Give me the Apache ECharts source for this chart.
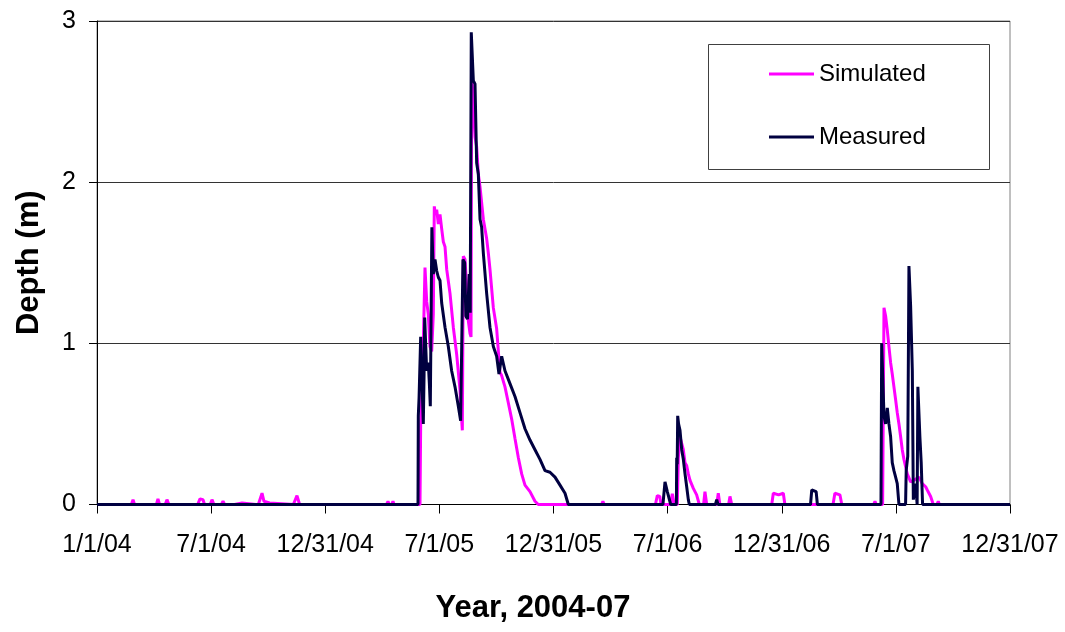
<!DOCTYPE html>
<html>
<head>
<meta charset="utf-8">
<script src="https://cdn.jsdelivr.net/npm/echarts@6/dist/echarts.min.js"></script>
<style>
html,body{margin:0;padding:0;background:#fff;}
#chart{width:1065px;height:632px;}
</style>
</head>
<body>
<div id="chart"></div>
<script>
// X tick labels (every half year, day 0 = 1/1/04)
var xTickLabels = ['1/1/04','7/1/04','12/31/04','7/1/05','12/31/05','7/1/06','12/31/06','7/1/07','12/31/07'];
var yTickLabels = ['0','1','2','3'];
var seriesNames = ['Simulated','Measured'];

// Simulated depth (m): days since 1/1/04
var simDays = [0,
 55,57.6,60, 95,97.5,100, 109,111.9,115, 142,143.9,146, 161,164.7,169.5,172, 181,183.9,187,
 199,201.5,204, 220,222,232,234, 254,255.9,258, 260,263.9,267,276,279, 314,319.8,324,
 439,441.4,443, 463,465.4,467, 471,473.3,475, 479,481.3,483,
 516.5,517.6,519,521.8,524.5,527.2,529.8,532.5,535.2,537.8,539.4,541,543.2,545.8,548.5,551.2,553.8,556.5,
 559.2,564.5,569.8,575.2,580.5,584.2,585.8,588.5,591.1,593.8,596.5,598.1,599.1,601.8,604.5,607.1,609.8,
 612.5,617.8,623.1,625.8,628.4,633.8,639.1,644.4,647.1,652.4,657.8,663.1,668.4,673.8,679.1,684.4,692.4,700.4,705.7,
 807,809,811, 893,896,900,902, 917,920,923,
 928,929.6,932.3,935,937.6,940.3,943,945.6,948.3,953.6,958.9,963.2,
 970,972.2,975, 991,993.5,996, 1010,1012.2,1015, 1026,1028.2,1030, 1079,1081.5,1090,1097.5,1100,
 1111,1113.5,1116, 1177,1180,1188,1191, 1242,1244.1,1246,
 1256.3,1258.5,1261.1,1263.8,1266.4,1269.1,1271.7,1274.4,1277.1,1279.7,1282.4,1285.1,1287.7,1290.4,
 1295.7,1301.1,1306.4,1314.4,1319.7,1325.1,1327.7,1333.1,1337.3,
 1343,1345.3,1347, 1460];
var simDepth = [0,
 0,0.03,0, 0,0.035,0, 0,0.03,0, 0,0.01,0, 0,0.035,0.03,0, 0,0.03,0,
 0,0.02,0, 0,0.01,0.01,0, 0,0.01,0, 0,0.07,0.02,0.01,0, 0,0.055,0,
 0,0.01,0, 0,0.02,0, 0,0.02,0, 0,0.01,0,
 0,0.5,0.62,1.0,1.47,1.26,1.18,0.98,0.95,1.18,1.85,1.8,1.83,1.74,1.80,1.71,1.63,1.6,
 1.46,1.31,1.1,0.93,0.71,0.46,1.54,1.52,1.35,1.14,1.06,1.04,2.70,2.47,2.28,2.22,2.05,
 1.97,1.77,1.65,1.56,1.46,1.22,1.09,0.82,0.80,0.73,0.63,0.53,0.41,0.29,0.19,0.12,0.08,0.02,0,
 0,0.02,0, 0,0.055,0.05,0, 0,0.066,0,
 0,0.29,0.42,0.38,0.34,0.26,0.24,0.19,0.15,0.10,0.06,0,
 0,0.08,0, 0,0.07,0, 0,0.05,0, 0,0.01,0, 0,0.07,0.06,0.07,0,
 0,0.01,0, 0,0.07,0.06,0, 0,0.02,0,
 0,1.22,1.17,1.08,0.98,0.88,0.81,0.73,0.65,0.57,0.50,0.42,0.34,0.28,
 0.19,0.14,0.15,0.17,0.13,0.11,0.09,0.05,0,
 0,0.02,0, 0];

// Measured depth (m): days since 1/1/04
var measDays = [0,
 513.3,513.8,515,517,517.6,519,521.8,523,524,526,527.2,529.8,531.5,533,535.5,537.8,540.5,543.2,545.8,548.5,
 551.2,556.5,561.8,567.1,572.5,577.8,581.5,583.5,585.2,588,589.8,592.5,595.2,596.8,598.5,601.8,604.5,607.1,
 609.8,612.5,615.1,617.8,623.1,628.4,633.8,639.1,642.8,647.1,652.4,660.4,668.4,676.4,684.4,692.4,700.4,
 708.4,716.4,724.4,732.4,740.4,748.4,753.7,
 775,777,779, 905,908.3,912,917.4,
 926.5,927,927.8,928.6,930,932.3,935,937.6,940.3,943,945.6,947.2,
 989,991,993, 1141,1143,1150,1152,
 1253.7,1254.8,1258.5,1261.1,1263.8,1266.4,1269.1,1271.7,1274.4,1277.1,1279.7,1282.4,
 1293,1294,1296.5,1298.4,1301.1,1303.8,1305.4,1309,1311.5,1312.7,1315.9,1318,1320.2, 1460];
var measDepth = [0,
 0,0.55,0.66,0.66,1.04,0.85,0.50,0.8,1.16,0.95,0.83,0.88,0.75,0.61,1.72,1.43,1.52,1.45,1.41,1.39,
 1.25,1.10,0.98,0.83,0.73,0.61,0.52,0.53,1.52,1.50,1.17,1.15,1.43,1.19,2.93,2.63,2.61,2.12,
 2.05,1.77,1.72,1.56,1.31,1.10,0.98,0.92,0.81,0.92,0.83,0.75,0.67,0.57,0.47,0.40,0.34,
 0.28,0.21,0.20,0.17,0.12,0.07,0,
 0,0.01,0, 0,0.14,0.08,0,
 0,0.29,0.25,0.55,0.50,0.46,0.34,0.28,0.19,0.11,0.03,0,
 0,0.03,0, 0,0.09,0.08,0,
 0,1.0,0.55,0.50,0.60,0.50,0.42,0.26,0.21,0.17,0.13,0,
 0,0.21,0.3,1.48,1.23,0.83,0.03,0.13,0,0.73,0.42,0.26,0, 0];

function zip(a, b){ return a.map(function(v,i){ return [v, b[i]]; }); }

var FONT = "'Liberation Sans', Arial, sans-serif";
var chart = echarts.init(document.getElementById('chart'), null, {renderer:'canvas'});
chart.setOption({
  animation: false,
  backgroundColor: '#ffffff',
  textStyle: {fontFamily: FONT},
  grid: {left: 97, right: 55, top: 21, bottom: 127.5, show: true, borderColor: '#808080', borderWidth: 1},
  legend: {
    orient: 'vertical', left: 769, top: 62, padding: 0, itemGap: 39,
    icon: 'rect', itemWidth: 45, itemHeight: 3,
    textStyle: {fontSize: 24, lineHeight: 24, color: '#000', fontFamily: FONT},
    data: [
      {name: seriesNames[0], itemStyle: {color: '#ff00ff'}},
      {name: seriesNames[1], itemStyle: {color: '#000040'}}
    ]
  },
  graphic: [{
    type: 'rect', left: 706, top: 42, z: 100, silent: true,
    shape: {width: 281, height: 125},
    style: {fill: 'none', stroke: '#404040', lineWidth: 1}
  }],
  xAxis: {
    type: 'value', min: 0, max: 1460, interval: 182.5,
    name: 'Year, 2004-07', nameLocation: 'middle', nameGap: 88,
    nameTextStyle: {fontSize: 31, fontWeight: 'bold', color: '#000', fontFamily: FONT, padding: [0, 41, 0, 0]},
    axisLine: {show: true, lineStyle: {color: '#000', width: 1}},
    axisTick: {show: true, inside: false, length: 9, lineStyle: {color: '#000'}},
    axisLabel: {
      fontSize: 25, color: '#000', margin: 28, fontFamily: FONT,
      formatter: function(v){ return xTickLabels[Math.round(v/182.5)] || ''; }
    },
    splitLine: {show: false}
  },
  yAxis: {
    type: 'value', min: 0, max: 3, interval: 1,
    name: 'Depth (m)', nameLocation: 'middle', nameGap: 52,
    nameTextStyle: {fontSize: 31, fontWeight: 'bold', color: '#000', fontFamily: FONT},
    axisLine: {show: true, lineStyle: {color: '#000', width: 1}},
    axisTick: {show: true, inside: false, length: 8, lineStyle: {color: '#000'}},
    axisLabel: {
      fontSize: 25, color: '#000', margin: 21, fontFamily: FONT,
      formatter: function(v){ return yTickLabels[Math.round(v)]; }
    },
    splitLine: {show: true, lineStyle: {color: '#333333', width: 1}}
  },
  series: [
    {name: seriesNames[0], type: 'line', symbol: 'none', showSymbol: false,
     lineStyle: {color: '#ff00ff', width: 3}, itemStyle: {color: '#ff00ff'},
     data: zip(simDays, simDepth), z: 2},
    {name: seriesNames[1], type: 'line', symbol: 'none', showSymbol: false,
     lineStyle: {color: '#000040', width: 3}, itemStyle: {color: '#000040'},
     data: zip(measDays, measDepth), z: 3}
  ]
});
</script>
</body>
</html>
